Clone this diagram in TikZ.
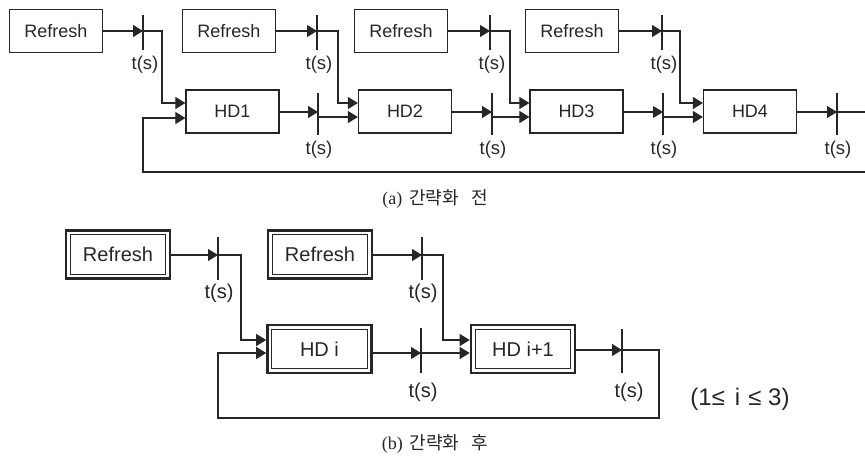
\documentclass[tikz,border=0pt]{standalone}
\usepackage{fontspec}
\setmainfont{Liberation Sans}
\newfontfamily\cjk{Noto Sans CJK KR}
\newfontfamily\serifl{Liberation Serif}
\usetikzlibrary{arrows.meta}
\definecolor{ink}{HTML}{262626}
\tikzset{
  blk/.style={draw=ink, line width=1.2pt, minimum width=93pt, minimum height=43pt, inner sep=0pt, font=\fontsize{18}{18}\selectfont, text=ink},
  dblk/.style={draw=ink, line width=2.6pt, minimum width=104pt, minimum height=48pt, inner sep=0pt, font=\fontsize{20}{20}\selectfont, text=ink,
    path picture={\draw[ink,line width=1pt] ([shift={(4.2pt,-4.2pt)}]path picture bounding box.north west) rectangle ([shift={(-4.2pt,4.2pt)}]path picture bounding box.south east);}},
  wire/.style={draw=ink, line width=1.1pt},
  arr/.style={wire, -{Triangle[length=10pt,width=12pt]}},
  barline/.style={draw=ink, line width=1.2pt},
  ts/.style={font=\fontsize{18.5}{18.5}\selectfont, text=ink, inner sep=0pt},
  tsb/.style={font=\fontsize{20}{20}\selectfont, text=ink, inner sep=0pt},
  captext/.style={font=\fontsize{18}{18}\selectfont, text=ink, inner sep=0pt}
}
\begin{document}
\begin{tikzpicture}[x=1pt,y=-1pt]
\useasboundingbox (0,0) rectangle (865,456);
% ---------- (a) ----------
\node[blk] (r1) at (56,31) {Refresh};
\node[blk] (r2) at (229,31) {Refresh};
\node[blk] (r3) at (401,31) {Refresh};
\node[blk] (r4) at (572,31) {Refresh};
\node[blk] (h1) at (232.5,111.5) {HD1};
\node[blk] (h2) at (405,111.5) {HD2};
\node[blk] (h3) at (576.5,111.5) {HD3};
\node[blk] (h4) at (750,111.5) {HD4};
% refresh bars
\foreach \n/\x in {1/143,2/317,3/490,4/662}{
  \coordinate (rb\n) at (\x,31);
  \draw[barline] (\x,15) -- (\x,50);
  \node[ts] (rt\n) at (\x+2,65) {t(s)};
}
% HD output bars
\foreach \n/\x in {1/318,2/492,3/663,4/837}{
  \coordinate (hb\n) at (\x,112);
  \draw[barline] (\x,93) -- (\x,135);
  \node[ts] (ht\n) at (\x+1,150) {t(s)};
}
\foreach \n/\j in {1/162,2/338,3/510,4/680}{
  \draw[arr] (r\n.east) -- (rb\n);
  \draw[arr] (rb\n) -- (\j,31) -- (\j,103) -- (h\n.west |- 0,103);
  \draw[arr] (h\n.east |- 0,112) -- (hb\n);
}
\draw[arr] (hb1 |- 0,117) -- (h2.west |- 0,117);
\draw[arr] (hb2 |- 0,117) -- (h3.west |- 0,117);
\draw[arr] (hb3 |- 0,117) -- (h4.west |- 0,117);
\coordinate (e1) at (865,112);
\coordinate (e2) at (865,172);
\draw[wire] (hb4) -- (e1);
\draw[arr] (e2) -- (143,172) -- (143,118) -- (h1.west |- 0,118);
\node[captext] (capa) at (435,199) {\serifl(a)\hspace{7pt}\cjk 간략화\hspace{12pt}전};
% ---------- (b) ----------
\node[dblk] (q1) at (118,254.5) {Refresh};
\node[dblk] (q2) at (320,254.5) {Refresh};
\node[dblk] (d1) at (319.5,349) {HD i};
\node[dblk] (d2) at (523,349) {HD i+1};
\coordinate (qb1) at (218,255);
\coordinate (qb2) at (422,255);
\coordinate (db1) at (421,353);
\coordinate (db2) at (622,350);
\draw[barline] (218,237) -- (218,280);
\draw[barline] (422,237) -- (422,280);
\draw[barline] (421,328) -- (421,373);
\draw[barline] (622,329) -- (622,373);
\node[tsb] (qt1) at (219,293) {t(s)};
\node[tsb] (qt2) at (423,293) {t(s)};
\node[tsb] (dt1) at (423,392) {t(s)};
\node[tsb] (dt2) at (629,392) {t(s)};
\draw[arr] (q1.east |- qb1) -- (qb1);
\draw[arr] (q2.east |- qb2) -- (qb2);
\draw[arr] (qb1) -- (241,255) -- (241,340) -- (d1.west |- 0,340);
\draw[arr] (qb2) -- (443,255) -- (443,340) -- (d2.west |- 0,340);
\draw[arr] (d1.east |- db1) -- (db1);
\draw[arr] (db1) -- (d2.west |- db1);
\draw[arr] (d2.east |- db2) -- (db2);
\draw[arr] (db2) -- (659,350) -- (659,418) -- (218,418) -- (218,353) -- (d1.west |- 0,353);
\node[inner sep=0pt, text=ink, font=\fontsize{24}{24}\selectfont] (cond) at (740,399) {(1≤\hspace{10pt}i\hspace{8pt}≤ 3)};
\node[captext] (capb) at (435,444) {\serifl(b)\hspace{7pt}\cjk 간략화\hspace{12pt}후};
\end{tikzpicture}
\end{document}
